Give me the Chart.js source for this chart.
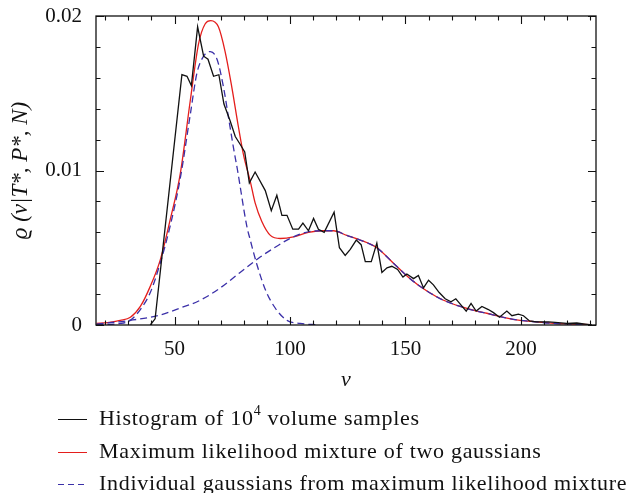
<!DOCTYPE html>
<html>
<head>
<meta charset="utf-8">
<script src="https://cdn.jsdelivr.net/npm/chart.js@4"></script>
<style>
  body { margin: 0; background: #fff; }
  #wrap { position: relative; width: 631px; height: 493px; overflow: hidden; }
  #legend { position: absolute; left: 0; top: 0; width: 631px; height: 493px; pointer-events: none;
            font-family: 'Liberation Serif', serif; font-size: 22px; color: #111; letter-spacing: 0.7px; }
  .row { position: absolute; left: 58px; white-space: nowrap; }
  .sample { position: absolute; left: 0; width: 29px; height: 1.4px; }
  .label { position: absolute; left: 41px; top: -14px; }
  .label sup { font-size: 14px; position: relative; top: -2px; }
</style>
</head>
<body>
<div id="wrap">
  <canvas id="chart" width="631" height="493"></canvas>
  <div id="legend">
    <div class="row" style="top:419px">
      <div class="sample" style="background:#111"></div>
      <div class="label">Histogram of 10<sup>4</sup> volume samples</div>
    </div>
    <div class="row" style="top:452px">
      <div class="sample" style="background:#e41e1c"></div>
      <div class="label">Maximum likelihood mixture of two gaussians</div>
    </div>
    <div class="row" style="top:484px">
      <div class="sample" style="background:repeating-linear-gradient(to right,#3b30a8 0 6px,transparent 6px 10px)"></div>
      <div class="label">Individual gaussians from maximum likelihood mixture</div>
    </div>
  </div>
</div>
<script>
// histogram of the volume samples (bin centres and density)
const histV = [39.5, 41.6, 53.2, 55.4, 57.3, 60.0, 62.6, 64.5, 66.9, 69.2, 71.4, 74.1, 76.3, 78.4, 80.4,
  82.4, 84.9, 89.3, 91.9, 94.3, 96.5, 98.7, 101.2, 103.7, 105.6, 108.0, 110.2, 112.3, 114.8, 119.1,
  121.4, 123.9, 126.1, 128.7, 130.8, 132.6, 135.2, 137.6, 139.8, 142.0, 144.1, 146.6, 148.9, 150.6,
  153.5, 155.6, 157.8, 160.0, 162.1, 164.6, 167.2, 169.7, 171.8, 174.0, 176.3, 178.4, 180.6, 183.1,
  185.9, 188.1, 190.7, 193.9, 196.1, 198.9, 201.1, 203.7, 206.6, 211.9, 214.8, 219.9, 224.2, 227.8, 230.7];
const histRho = [0, 0.0004, 0.0162, 0.0161, 0.0155, 0.0193, 0.0174, 0.0172, 0.0161, 0.0162, 0.0143, 0.0132, 0.0122, 0.0117, 0.0112,
  0.0092, 0.0099, 0.0087, 0.0074, 0.0084, 0.0071, 0.0071, 0.0062, 0.0062, 0.0066, 0.0061, 0.0069, 0.0062, 0.0060, 0.0073,
  0.0050, 0.0045, 0.0049, 0.0055, 0.0052, 0.0041, 0.0041, 0.0053, 0.0034, 0.0037, 0.0038, 0.0036, 0.0031, 0.0033,
  0.0030, 0.0032, 0.0024, 0.0029, 0.0026, 0.0021, 0.0017, 0.0015, 0.0017, 0.0013, 0.0009, 0.0014, 0.0009, 0.0012,
  0.0010, 0.0008, 0.0005, 0.0009, 0.0006, 0.0007, 0.0006, 0.00026, 0.0002, 0.0002, 0.00017, 0.0001, 0.00013, 0.00006, 0];

// maximum likelihood mixture (red)
const mixV = [16.2, 21, 26.5, 30.9, 35.2, 39.5, 43.8, 48.1, 52.5, 56.8, 60.4, 63.3, 65.7, 69, 71.9, 74.8, 77.7, 79.9,
  82.8, 84.9, 87.8, 91.5, 95.8, 101.5, 108, 113.8, 118.8, 124.6, 130.4, 137.6, 144.8, 152, 159.3, 166.5, 173.7,
  180.9, 185.2, 192.4, 199.6, 206.9, 214.1, 221.3, 230];
const mixRho = [0.0001, 0.00015, 0.0003, 0.0005, 0.0012, 0.0025, 0.0042, 0.0068, 0.0098, 0.0145, 0.0182, 0.0195, 0.0197, 0.0193, 0.0177, 0.0154, 0.0128, 0.0110,
  0.0093, 0.0079, 0.0067, 0.0058, 0.0056, 0.0057, 0.0060, 0.0061, 0.0061, 0.0058, 0.0055, 0.0050, 0.0040, 0.0030, 0.0022, 0.0016, 0.0012,
  0.0009, 0.00076, 0.0005, 0.0003, 0.0002, 0.0001, 0.00006, 0.00002];

// narrow gaussian (blue dashed)
const g1V = [16.2, 26.5, 30.8, 35.2, 39.5, 43.8, 48.1, 52.5, 56.8, 59.7, 62.6, 65.5, 68.4, 71.2, 73.4, 75.5, 77.3,
  81.3, 82.8, 85.7, 89.3, 93.6, 98.7, 104.4, 112];
const g1Rho = [0.00002, 0.0001, 0.0003, 0.001, 0.0021, 0.0040, 0.0064, 0.0095, 0.0136, 0.0163, 0.0174, 0.0177, 0.0172, 0.0154, 0.0134, 0.0115, 0.0100,
  0.0064, 0.0055, 0.0039, 0.0023, 0.0011, 0.0003, 0.0001, 0.00001];

// broad gaussian (blue dashed)
const g2V = [16.2, 30.8, 43.8, 52.5, 61.1, 69.8, 78.4, 87.1, 94.3, 100, 107, 113.8, 118.8, 124.6, 130.4, 137.6,
  144.8, 152, 159.3, 166.5, 173.7, 180.9, 185.2, 192.4, 199.6, 206.9, 214.1, 221.3, 230];
const g2Rho = [0.00006, 0.0003, 0.00065, 0.0011, 0.0016, 0.0024, 0.0034, 0.0044, 0.0051, 0.0056, 0.0060, 0.0061, 0.0061, 0.0058, 0.0055, 0.0050,
  0.0040, 0.0030, 0.0022, 0.0016, 0.0012, 0.0009, 0.00076, 0.0005, 0.0003, 0.0002, 0.0001, 0.00006, 0.00002];

// axes
const xMajor = [50, 100, 150, 200];
const xMinor = [20, 30, 40, 60, 70, 80, 90, 110, 120, 130, 140, 160, 170, 180, 190, 210, 220, 230];
const yMajor = [0, 0.01, 0.02];
const yMajorLabels = ['0', '0.01', '0.02'];
const yMinor = [0.002, 0.004, 0.006, 0.008, 0.012, 0.014, 0.016, 0.018];

const pts = (xs, ys) => xs.map((x, i) => ({ x: x, y: ys[i] }));

const serif = "'Liberation Serif', 'Times New Roman', serif";

// frame with inward ticks on all four sides
const framePlugin = {
  id: 'frame',
  afterDraw(chart) {
    const { ctx, chartArea: a, scales: { x, y } } = chart;
    ctx.save();
    ctx.strokeStyle = '#111';
    ctx.lineWidth = 1.3;
    ctx.strokeRect(a.left, a.top, a.right - a.left, a.bottom - a.top);
    ctx.lineWidth = 1.1;
    ctx.beginPath();
    const xt = (v, len) => {
      const px = Math.round(x.getPixelForValue(v)) + 0.5;
      ctx.moveTo(px, a.bottom); ctx.lineTo(px, a.bottom - len);
      ctx.moveTo(px, a.top); ctx.lineTo(px, a.top + len);
    };
    const yt = (v, len) => {
      const py = Math.round(y.getPixelForValue(v)) + 0.5;
      ctx.moveTo(a.left, py); ctx.lineTo(a.left + len, py);
      ctx.moveTo(a.right, py); ctx.lineTo(a.right - len, py);
    };
    xMajor.forEach(v => xt(v, 8));
    xMinor.forEach(v => xt(v, 4.5));
    yMajor.forEach(v => yt(v, 8));
    yMinor.forEach(v => yt(v, 4.5));
    ctx.stroke();
    ctx.restore();
  }
};

new Chart(document.getElementById('chart').getContext('2d'), {
  type: 'line',
  data: {
    datasets: [
      {
        label: 'Histogram of 10^4 volume samples',
        data: pts(histV, histRho),
        borderColor: '#111',
        borderWidth: 1.3,
        tension: 0,
      },
      {
        label: 'Individual gaussians from maximum likelihood mixture',
        data: pts(g1V, g1Rho),
        borderColor: '#3b30a8',
        borderWidth: 1.3,
        borderDash: [7, 4],
        cubicInterpolationMode: 'monotone',
      },
      {
        label: 'Individual gaussians (broad)',
        data: pts(g2V, g2Rho),
        borderColor: '#3b30a8',
        borderWidth: 1.3,
        borderDash: [7, 4],
        cubicInterpolationMode: 'monotone',
      },
      {
        label: 'Maximum likelihood mixture of two gaussians',
        data: pts(mixV, mixRho),
        borderColor: '#e41e1c',
        borderWidth: 1.3,
        cubicInterpolationMode: 'monotone',
      },
    ],
  },
  options: {
    responsive: false,
    animation: false,
    devicePixelRatio: 1,
    layout: { padding: { top: 16, right: 35, left: 0, bottom: 0 } },
    elements: { point: { radius: 0 } },
    plugins: { legend: { display: false }, tooltip: { enabled: false } },
    scales: {
      x: {
        type: 'linear',
        min: 16,
        max: 232.5,
        grid: { display: false, drawTicks: false },
        border: { display: false },
        afterBuildTicks: (s) => { s.ticks = xMajor.map(v => ({ value: v })); },
        afterFit: (s) => { s.height = 168; s.paddingLeft = 0; s.paddingRight = 0; },
        ticks: { padding: 12, color: '#111', font: { family: serif, size: 21 }, autoSkip: false, maxRotation: 0 },
        title: { display: true, text: 'v', color: '#111', padding: { top: 0, bottom: 100 },
                 font: { family: serif, size: 22, style: 'italic' } },
      },
      y: {
        min: 0,
        max: 0.02,
        grid: { display: false, drawTicks: false },
        border: { display: false },
        afterBuildTicks: (s) => { s.ticks = yMajor.map(v => ({ value: v })); },
        afterFit: (s) => { s.width = 96; s.paddingTop = 0; s.paddingBottom = 0; },
        ticks: { padding: 14, color: '#111', font: { family: serif, size: 21 },
                 callback: (v) => yMajorLabels[yMajor.indexOf(v)] },
        title: { display: true, text: 'ϱ (v|T*, P*, N)', color: '#111', padding: { top: 7, bottom: 0 },
                 font: { family: serif, size: 23, style: 'italic' } },
      },
    },
  },
  plugins: [framePlugin],
});
</script>
</body>
</html>
